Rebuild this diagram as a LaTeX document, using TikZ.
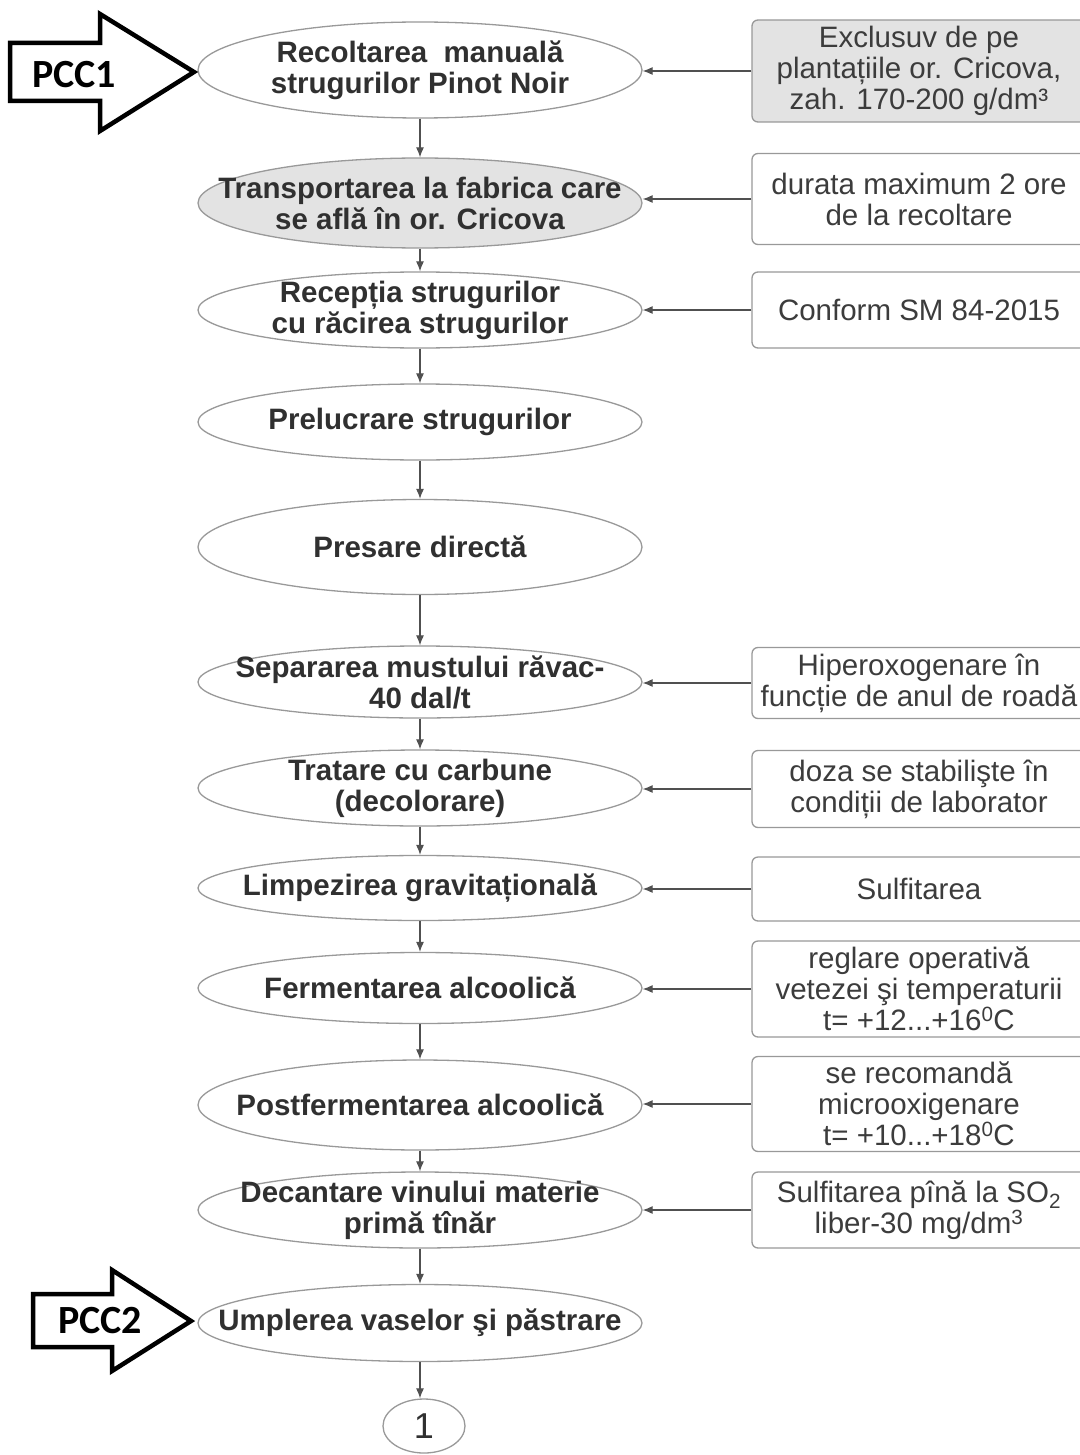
\documentclass[tikz,border=0pt]{standalone}
\usepackage{fontspec}
\setmainfont{Liberation Sans}
\newfontfamily\pccfont{Carlito}
\usetikzlibrary{shapes.geometric,arrows.meta}
\definecolor{textgray}{HTML}{303030}
\definecolor{notegray}{HTML}{3C3C3C}
\definecolor{linegray}{HTML}{505050}
\definecolor{fillgray}{HTML}{E3E3E3}
\tikzset{
  etapa/.style={ellipse, draw=gray!80, line width=1.3pt, minimum width=444pt, inner sep=0pt},
  etext/.style={align=center, font=\fontsize{29.5}{31}\selectfont\bfseries, text=textgray, inner sep=0pt},
  nota/.style={rectangle, rounded corners=6pt, draw=gray!80, line width=1.3pt, minimum width=334pt, align=center, font=\fontsize{29.5}{31}\selectfont, text=notegray, inner sep=0pt},
  sageata/.style={draw=linegray, line width=1.1pt, -{Latex[length=10pt,width=8pt]}},
  pcc/.style={draw=black, line width=4.5pt, fill=white, line join=miter},
  pcctext/.style={font=\pccfont\fontsize{40}{40}\selectfont\bfseries}
}
\begin{document}
\begin{tikzpicture}[x=1pt,y=-1pt]
    \useasboundingbox[fill=white] (0,0) rectangle (1079,1455);

    % Etapele procesului
    \node[etapa, minimum height=96pt] (e1) at (420,70) {};
    \node[etapa, minimum height=90pt, fill=fillgray] (e2) at (420,203) {};
    \node[etapa, minimum height=76pt] (e3) at (420,310) {};
    \node[etapa, minimum height=76pt] (e4) at (420,422) {};
    \node[etapa, minimum height=95pt] (e5) at (420,547) {};
    \node[etapa, minimum height=72pt] (e6) at (420,682) {};
    \node[etapa, minimum height=76pt] (e7) at (420,788) {};
    \node[etapa, minimum height=65pt] (e8) at (420,888) {};
    \node[etapa, minimum height=71pt] (e9) at (420,988) {};
    \node[etapa, minimum height=90pt] (e10) at (420,1105) {};
    \node[etapa, minimum height=76pt] (e11) at (420,1210) {};
    \node[etapa, minimum height=77pt] (e12) at (420,1323) {};
    \node[ellipse, draw=gray!80, line width=1.3pt, minimum width=82pt, minimum height=54pt, inner sep=0pt,
          font=\fontsize{36}{36}\selectfont, text=textgray] (unu) at (424,1426) {1};

    \node[etext] (t1) at (e1) {Recoltarea\ \ manuală\\strugurilor Pinot Noir};
    \node[etext] (t2) at (e2) {Transportarea la fabrica care\\se află în or. Cricova};
    \node[etext] (t3) at (e3) {Recepția strugurilor\\cu răcirea strugurilor};
    \node[etext] (t4) at (e4) {Prelucrare strugurilor};
    \node[etext] (t5) at (e5) {Presare directă};
    \node[etext] (t6) at (e6) {Separarea mustului răvac-\\40 dal/t};
    \node[etext] (t7) at (e7) {Tratare cu carbune\\(decolorare)};
    \node[etext] (t8) at (e8) {Limpezirea gravitațională};
    \node[etext] (t9) at (e9) {Fermentarea alcoolică};
    \node[etext] (t10) at (e10) {Postfermentarea alcoolică};
    \node[etext] (t11) at (e11) {Decantare vinului materie\\primă tînăr};
    \node[etext] (t12) at (e12) {Umplerea vaselor şi păstrare};

    % Note din dreapta
    \node[nota, minimum height=102pt, fill=fillgray] (n1) at (919,71) {Exclusuv de pe\\plantațiile or. Cricova,\\zah. 170-200 g/dm³};
    \node[nota, minimum height=91pt] (n2) at (919,199) {durata maximum 2 ore\\de la recoltare};
    \node[nota, minimum height=76pt] (n3) at (919,310) {Conform SM 84-2015};
    \node[nota, minimum height=71pt] (n4) at (919,683) {Hiperoxogenare în\\funcție de anul de roadă};
    \node[nota, minimum height=77pt] (n5) at (919,789) {doza se stabilişte în\\condiții de laborator};
    \node[nota, minimum height=64pt] (n6) at (919,889) {Sulfitarea};
    \node[nota, minimum height=96pt] (n7) at (919,989) {reglare operativă\\vetezei şi temperaturii\\t= +12...+16\textsuperscript{0}C};
    \node[nota, minimum height=95pt] (n8) at (919,1104) {se recomandă\\microoxigenare\\t= +10...+18\textsuperscript{0}C};
    \node[nota, minimum height=76pt] (n9) at (919,1210) {Sulfitarea pînă la SO\textsubscript{2}\\liber-30 mg/dm\textsuperscript{3}};

    % Sageti verticale
    \foreach \i/\j in {e1/e2,e2/e3,e3/e4,e4/e5,e5/e6,e6/e7,e7/e8,e8/e9,e9/e10,e10/e11,e11/e12}
        \draw[sageata] (\i.south) -- (\j.north);
    \draw[sageata] (e12.south) -- (e12.south |- unu.north);

    % Sageti orizontale
    \draw[sageata] (n1.west) -- (n1.west -| e1.east);
    \draw[sageata] (n2.west) -- (n2.west -| e2.east);
    \draw[sageata] (n3.west) -- (n3.west -| e3.east);
    \draw[sageata] (n4.west) -- (n4.west -| e6.east);
    \draw[sageata] (n5.west) -- (n5.west -| e7.east);
    \draw[sageata] (n6.west) -- (n6.west -| e8.east);
    \draw[sageata] (n7.west) -- (n7.west -| e9.east);
    \draw[sageata] (n8.west) -- (n8.west -| e10.east);
    \draw[sageata] (n9.west) -- (n9.west -| e11.east);

    % Punctele critice de control
    \draw[pcc] (10,43) -- (100,43) -- (100,14) -- (194,72) -- (100,131) -- (100,101) -- (10,101) -- cycle;
    \node[pcctext] (pcc1) at (74,75) {PCC1};
    \draw[pcc] (33,1294) -- (112,1294) -- (112,1270) -- (191,1321) -- (112,1371) -- (112,1347) -- (33,1347) -- cycle;
    \node[pcctext] (pcc2) at (100,1321) {PCC2};
\end{tikzpicture}
\end{document}
